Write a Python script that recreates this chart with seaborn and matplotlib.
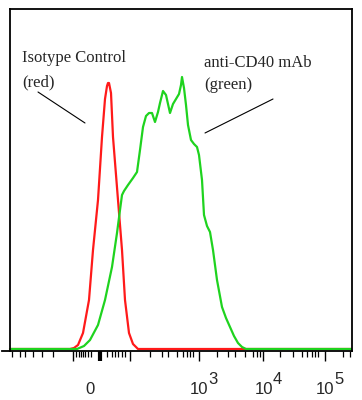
import numpy as np
import matplotlib
matplotlib.use("Agg")
import matplotlib.pyplot as plt
import pandas as pd
import seaborn as sns

sns.set_theme(style="ticks")
plt.rcParams.update({
    "font.family": ["Liberation Sans", "DejaVu Sans"],
    "figure.facecolor": "white", "axes.facecolor": "white",
})

# fluorescence channel (display units) and event counts
iso_channel = [0, 60, 64, 68, 73, 79, 83, 88, 92, 95, 97, 98, 99, 101, 103,
               108, 112, 115, 119, 123, 128, 342]
iso_count = [0, 0, 1, 4, 16, 49, 99, 149, 212, 250, 263, 266, 266, 256, 212,
             149, 99, 49, 16, 5, 0, 0]

cd40_channel = [0, 67, 74, 80, 88, 95, 102, 107, 110, 112, 114, 118, 123, 127,
                130, 133, 136, 139, 142, 145, 148, 150, 153, 156, 158, 160, 163,
                166, 169, 171, 172, 174, 176, 178, 181, 184, 187, 189, 192, 194,
                197, 200, 203, 207, 212, 216, 220, 224, 228, 232, 236, 342]
cd40_count = [0, 0, 3, 9, 24, 49, 82, 116, 139, 154, 158, 164, 171, 177,
              199, 222, 233, 236, 236, 227, 237, 246, 258, 254, 245, 236, 245,
              250, 255, 264, 272, 261, 244, 224, 209, 205, 202, 194, 169, 134,
              123, 117, 99, 69, 42, 31, 22, 13, 6, 2, 0, 0]

major_ticks = [63, 90, 120, 189, 253, 315]
minor_ticks = [2, 10, 15, 23, 32, 43, 66, 69, 71, 73, 75, 78, 81, 97, 102, 105,
               108, 112, 115, 140, 152, 158, 167, 173, 177, 180, 183, 207, 218,
               225, 235, 243, 247, 250, 270, 283, 292, 297, 302, 305, 308, 333, 340]
label_pos = [80, 189, 254, 315]
label_base = ["0", "10", "10", "10"]
label_exp = ["", "3", "4", "5"]

df = pd.concat([
    pd.DataFrame({"channel": iso_channel, "count": iso_count, "sample": "Isotype"}),
    pd.DataFrame({"channel": cd40_channel, "count": cd40_count, "sample": "anti-CD40"}),
])

fig = plt.figure(figsize=(3.62, 4.0), dpi=100)
ax = fig.add_axes([2 / 362, 49.5 / 400, 350 / 362, 341.5 / 400])

sns.lineplot(data=df, x="channel", y="count", hue="sample", estimator=None,
             palette={"Isotype": "#ff1a1a", "anti-CD40": "#1fd31f"},
             linewidth=1.6, legend=False, ax=ax)

ax.set_xlim(-8, 342)
ax.set_ylim(-1.5, 340)
ax.set_xlabel("")
ax.set_ylabel("")
ax.set_yticks([])

for s in ax.spines.values():
    s.set_linewidth(1.3)
    s.set_color("black")
ax.spines["left"].set_position(("data", 0))
ax.spines["top"].set_bounds(0, 342)

ax.set_xticks(major_ticks)
ax.set_xticks(minor_ticks, minor=True)
ax.tick_params(axis="x", which="major", length=7.5, width=1.0, labelbottom=False,
               direction="out", color="black")
ax.tick_params(axis="x", which="minor", length=4.5, width=0.9, direction="out",
               color="black")
ax.xaxis.get_major_ticks()[1].tick1line.set_markeredgewidth(3)

# decade labels: base as tick labels, full-size raised exponent beside them
sec = ax.secondary_xaxis("bottom")
sec.spines["bottom"].set_visible(False)
sec.set_xticks(label_pos, label_base)
sec.tick_params(length=0, pad=31, labelsize=12)
for t in sec.get_xticklabels():
    t.set_va("baseline")
for x, e in zip(label_pos, label_exp):
    if e:
        ax.annotate(e, xy=(x, 0), xycoords=("data", "axes fraction"),
                    xytext=(6.5, -24), textcoords="offset points",
                    fontsize=12, ha="left", va="baseline", annotation_clip=False)

serif = ["Liberation Serif", "DejaVu Serif"]
ax.text(12, 291, "Isotype Control", family=serif, fontsize=12, va="center")
ax.text(12, 267, "(red)", family=serif, fontsize=12, va="center")
ax.text(194, 286, "anti-CD40 mAb", family=serif, fontsize=12, va="center")
ax.text(194, 264, "(green)", family=serif, fontsize=12, va="center")
ax.plot([28, 75], [257, 226], color="black", linewidth=0.8)
ax.plot([263, 195], [250, 216], color="black", linewidth=0.8)

fig.savefig("out.png", dpi=100)
plt.close(fig)
